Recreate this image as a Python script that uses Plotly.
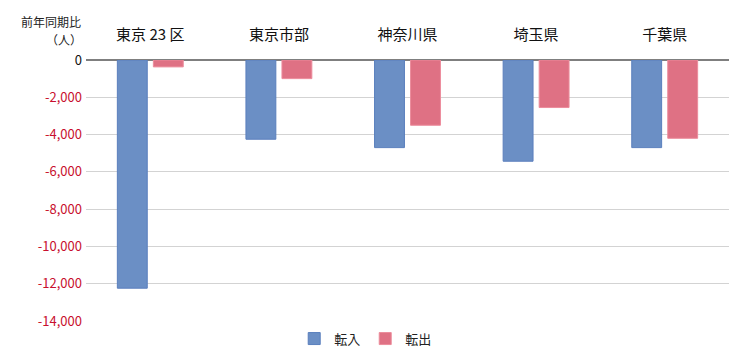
import plotly.graph_objects as go

categories = ["東京 23 区", "東京市部", "神奈川県", "埼玉県", "千葉県"]
tennyu = [-12240, -4250, -4700, -5430, -4700]
tenshutsu = [-370, -1000, -3500, -2550, -4200]
tick_vals = [0, -2000, -4000, -6000, -8000, -10000, -12000, -14000]
tick_text = ["0"] + [f"<span style='color:#c8102e'>{v:,}</span>" for v in tick_vals[1:]]

FONT = "Noto Sans CJK JP"

fig = go.Figure()
fig.add_trace(go.Bar(
    x=categories, y=tennyu, name="転入",
    marker=dict(color="#6b8fc5", line=dict(color="#5a7fbd", width=1)),
))
fig.add_trace(go.Bar(
    x=categories, y=tenshutsu, name="転出",
    marker=dict(color="#df7184", line=dict(color="#ec8c9c", width=1)),
))

fig.update_layout(
    width=742, height=354,
    margin=dict(l=78, r=21, t=52, b=41, autoexpand=False),
    paper_bgcolor="white", plot_bgcolor="white",
    barmode="group", bargap=0.44, bargroupgap=0.17,
    font=dict(family=FONT, size=13, color="#222222"),
    showlegend=True,
    legend=dict(orientation="h", x=0.435, xanchor="center", y=-0.01, yanchor="top",
                font=dict(size=13, color="#222222"), itemwidth=30,
                traceorder="normal"),
    xaxis=dict(side="top", showgrid=False, showline=False, ticks="",
               tickfont=dict(size=15, color="#111111", family=FONT),
               ticklabelstandoff=16, automargin=False),
    yaxis=dict(range=[-14000, 0], tickvals=tick_vals, ticktext=tick_text,
               showgrid=True, gridcolor="#d3d3d3", gridwidth=1,
               zeroline=True, zerolinecolor="#7f7f7f", zerolinewidth=1.5,
               ticks="", ticklabelstandoff=3,
               tickfont=dict(size=13, color="#111111", family=FONT),
               showline=False, automargin=False),
    annotations=[
        dict(text="前年同期比", xref="paper", yref="paper",
             x=0, y=1.0, xanchor="right", yanchor="middle", yshift=39, xshift=-3,
             showarrow=False, font=dict(size=12, color="#222222", family=FONT)),
        dict(text="（人）", xref="paper", yref="paper",
             x=0, y=1.0, xanchor="right", yanchor="middle", yshift=21, xshift=-2,
             showarrow=False, font=dict(size=12, color="#222222", family=FONT)),
    ],
)

fig.write_html("out.html")
